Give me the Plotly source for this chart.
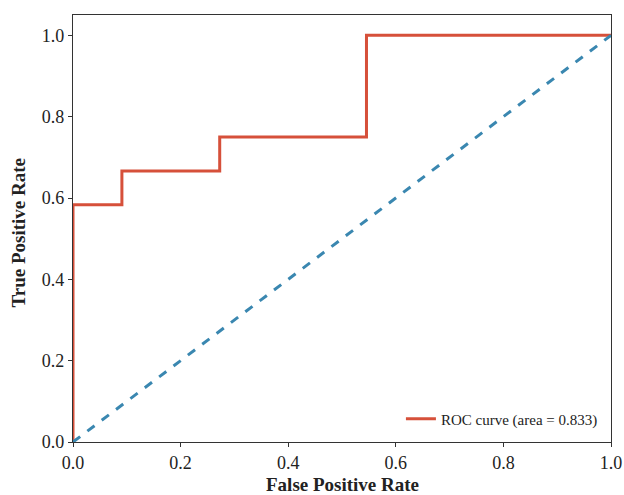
import plotly.graph_objects as go

fpr = [0.0, 0.0, 0.0909, 0.0909, 0.2727, 0.2727, 0.5455, 0.5455, 1.0]
tpr = [0.0, 0.5833, 0.5833, 0.6667, 0.6667, 0.75, 0.75, 1.0, 1.0]
diag_x = [0.0, 1.0]
diag_y = [0.0, 1.0]
roc_label = "ROC curve (area = 0.833)"
ticks = [0.0, 0.2, 0.4, 0.6, 0.8, 1.0]
tick_text = ["0.0", "0.2", "0.4", "0.6", "0.8", "1.0"]
x_title = "False Positive Rate"
y_title = "True Positive Rate"

fig = go.Figure()
fig.add_trace(go.Scatter(x=fpr, y=tpr, mode="lines", name=roc_label,
                         line=dict(color="#d6503a", width=3)))
fig.add_trace(go.Scatter(x=diag_x, y=diag_y, mode="lines", showlegend=False,
                         line=dict(color="#3a87b0", width=3, dash="dash")))

font_family = "Liberation Serif, Times New Roman, serif"
axis_common = dict(showgrid=False, zeroline=False, showline=True, mirror=True,
                   linecolor="#333333", linewidth=1.2, ticks="outside", ticklen=4,
                   tickcolor="#333333", tickvals=ticks, ticktext=tick_text,
                   automargin=False,
                   tickfont=dict(family=font_family, size=18, color="#222222"))
fig.update_layout(
    width=624, height=495,
    margin=dict(l=73, r=13, t=15, b=53),
    plot_bgcolor="white", paper_bgcolor="white",
    font=dict(family=font_family, color="#222222"),
    xaxis=dict(range=[0, 1], **axis_common),
    yaxis=dict(range=[0, 1.05], **axis_common),
    legend=dict(x=0.985, y=0.015, xanchor="right", yanchor="bottom",
                bgcolor="rgba(255,255,255,0.8)", borderwidth=0,
                font=dict(family=font_family, size=15, color="#222222")),
    annotations=[
        dict(text="<b>" + x_title + "</b>", xref="paper", yref="paper", x=0.5, y=0,
             xanchor="center", yanchor="middle", yshift=-42, showarrow=False,
             font=dict(family=font_family, size=19, color="#222222")),
        dict(text="<b>" + y_title + "</b>", xref="paper", yref="paper", x=0, y=0.5,
             xanchor="center", yanchor="middle", xshift=-55, yshift=-4, textangle=-90,
             showarrow=False, font=dict(family=font_family, size=19, color="#222222")),
    ],
)
fig.write_html("out.html", config={"displayModeBar": False},
               post_script="document.body.style.margin='0';document.body.style.overflow='hidden';")
